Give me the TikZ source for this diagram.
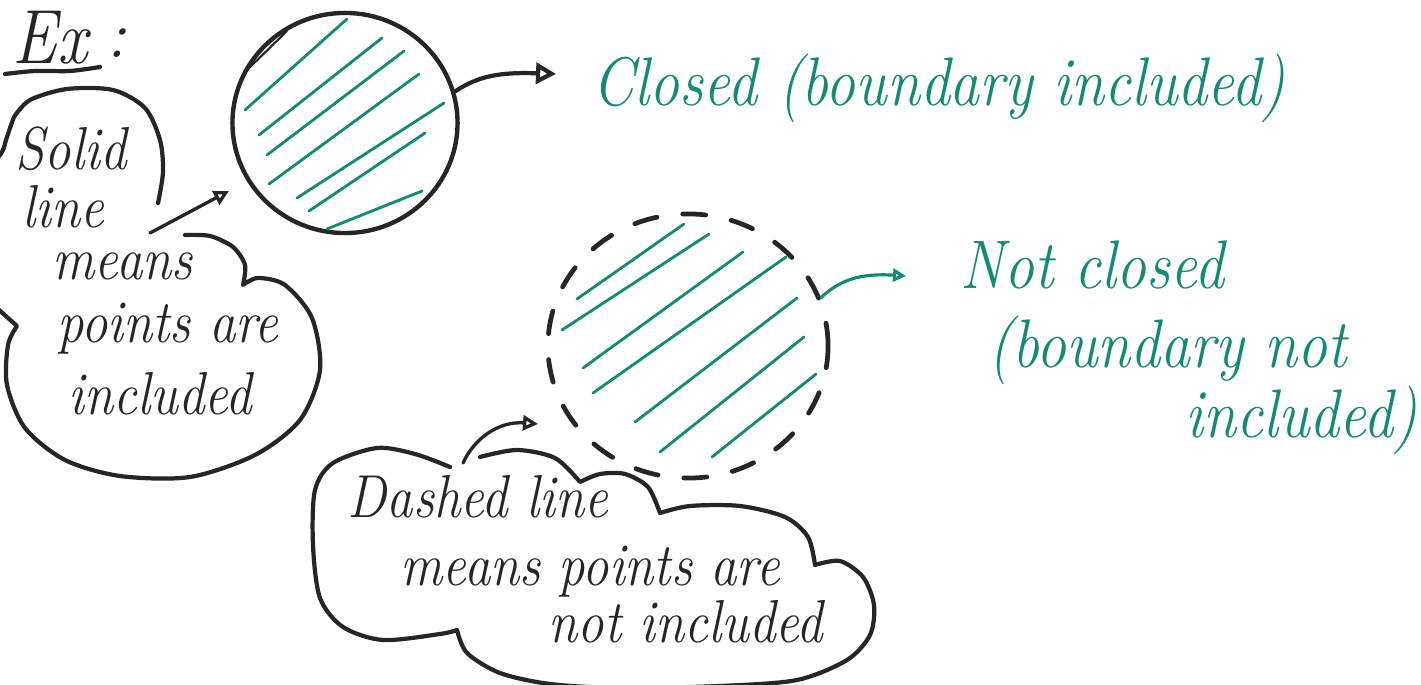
\documentclass[tikz,border=0pt]{standalone}
\usepackage{fontspec}
\usepackage{graphicx}
\usetikzlibrary{arrows.meta,shapes.geometric}

\definecolor{ink}{RGB}{38,38,38}
\definecolor{tealink}{RGB}{18,138,116}

% handwritten-looking lettering: a little taller than the font
\newcommand{\tallhand}[1]{\scalebox{1}[1.15]{#1}}

\tikzset{
  inkline/.style={draw=ink, line width=1.2pt, line cap=round, line join=round},
  thinink/.style={draw=ink, line width=0.95pt, line cap=round, line join=round},
  hatch/.style={draw=tealink, line width=0.8pt, line cap=round},
  note/.style={text=ink, font=\fontsize{15}{18}\selectfont\itshape, inner sep=0pt, anchor=base west},
  tealnote/.style={text=tealink, font=\fontsize{17}{20}\selectfont\itshape, inner sep=0pt, anchor=base west},
  bigtip/.style={-{Triangle[open, length=2mm, width=2.1mm]}},
  smalltip/.style={-{Triangle[open, length=1.5mm, width=1.5mm]}},
  tinytip/.style={-{Triangle[open, length=1.3mm, width=1.3mm]}},
}

\begin{document}
\begin{tikzpicture}[x=0.01cm, y=-0.01cm]
\useasboundingbox (0,0) rectangle (1421,685);
\clip (0,0) rectangle (1421,685);

% heading
\node[note, font=\fontsize{19}{22}\selectfont\itshape] (ex) at (12,64) {\tallhand{Ex}};
\node[note, font=\fontsize{19}{22}\selectfont\itshape] (colon) at (106,58) {:};
\draw[inkline] plot[smooth] coordinates {(5,74) (35,71) (70,71) (100,67)};

% closed set: solid boundary with hatching
\node[draw=ink, line width=1.25pt, ellipse, minimum width=2.25cm, minimum height=2.2cm, inner sep=0pt] (solidc) at (345,123) {};
\foreach \xa/\ya/\xb/\yb in {245/110/347/19, 259/135/382/38, 267/155/404/51, 269/184/419/74,
                             297/198/444/103, 309/211/425/133, 327/229/422/191}
  \draw[hatch] (\xa,\ya) -- (\xb,\yb);
\draw[draw=ink, line width=0.6pt, line cap=round] (245,72) -- (287,31);

% open set: dashed boundary with hatching
\node[draw=ink, line width=1.35pt, ellipse, minimum width=2.8cm, minimum height=2.64cm, inner sep=0pt,
      dash pattern=on 0.23cm off 0.26cm, line cap=round] (dashc) at (688,346) {};
\foreach \xa/\ya/\xb/\yb in {577/299/684/224, 562/330/709/234, 583/368/743/252, 593/393/786/257,
                             635/422/797/298, 660/452/804/337, 712/457/816/374}
  \draw[hatch] (\xa,\ya) -- (\xb,\yb);

% labels on the right
\node[tealnote] (closedtxt) at (592,106) {\tallhand{Closed (boundary included)}};
\node[tealnote] (notclosed) at (960,288) {\tallhand{Not closed}};
\node[tealnote] (nc2) at (988,367) {\tallhand{(boundary not}};
\node[tealnote] (nc3) at (1185,437) {\tallhand{included)}};

\coordinate (closedtip) at (556,74);
\draw[inkline, bigtip] (solidc.16) .. controls (478,76) and (500,72) .. (closedtip);
\coordinate (notclosedtip) at (906,276);
\draw[draw=tealink, line width=0.9pt, line cap=round, tinytip] (dashc.20) .. controls (840,280) and (860,273) .. (notclosedtip);

% speech cloud for the solid line
\draw[inkline]
  plot[smooth] coordinates {(158,203) (163,172) (160,140) (145,108) (113,90) (67,89) (30,100) (14,117)}
  -- plot[smooth] coordinates {(14,117) (10,128) (6,140) (2,152) (-12,170)}
  -- (-12,300)
  -- plot[smooth] coordinates {(-12,300) (8,318) (17,326)}
  -- plot[smooth] coordinates {(17,326) (8,345) (7,385) (25,428) (65,460) (120,476) (190,477) (255,455) (300,420) (320,370) (312,318) (285,285) (258,278) (243,285)}
  -- plot[smooth] coordinates {(243,285) (245,265) (233,247) (210,236) (185,235)};

\node[note] (solid) at (15,170) {\tallhand{Solid}};
\node[note] (line1) at (22,228) {\tallhand{line}};
\node[note] (means1) at (52,279) {\tallhand{means}};
\node[note] (points1) at (57,342) {\tallhand{points are}};
\node[note] (incl1) at (68,414) {\tallhand{included}};

\coordinate (solidfrom) at (150,233);
\coordinate (solidtip) at (229,191);
\draw[thinink, smalltip] (solidfrom) -- (solidtip);

% speech cloud for the dashed line
\draw[inkline]
  plot[smooth] coordinates {(480,457) (517,450) (555,458) (580,482)}
  -- plot[smooth] coordinates {(580,482) (600,474) (625,474) (648,487) (660,513)}
  -- plot[smooth] coordinates {(660,513) (690,506) (740,506) (785,517) (808,537) (815,565)}
  -- plot[smooth] coordinates {(815,565) (840,561) (863,577) (874,605) (870,635) (847,660) (797,680) (720,686) (620,688) (550,684) (500,673) (467,653) (457,630)}
  -- plot[smooth] coordinates {(457,630) (440,634) (383,640) (343,627) (320,598) (313,545) (315,490) (333,463) (377,448) (415,454) (450,467)};

\node[note] (dash1) at (347,517) {\tallhand{Dashed line}};
\node[note] (dash2) at (400,585) {\tallhand{means points are}};
\node[note] (dash3) at (548,642) {\tallhand{not included}};

\coordinate (dashfrom) at (463,463);
\coordinate (dashtip) at (538,424);
\draw[thinink, smalltip] (dashfrom) .. controls (475,437) and (500,421) .. (dashtip);
\end{tikzpicture}
\end{document}
